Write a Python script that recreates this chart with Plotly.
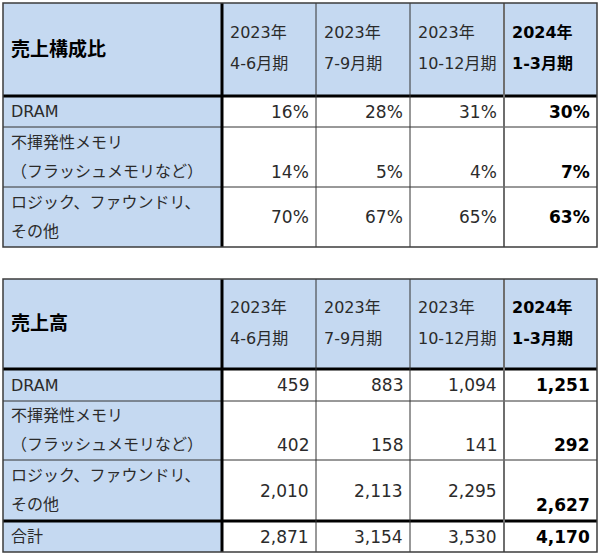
import plotly.graph_objects as go

# ---------------- data ----------------
period_years = ["2023年", "2023年", "2023年", "2024年"]
period_quarters = ["4-6月期", "7-9月期", "10-12月期", "1-3月期"]

share_title = "売上構成比"
share_labels = ["DRAM", "不揮発性メモリ\n（フラッシュメモリなど）", "ロジック、ファウンドリ、\nその他"]
share_dram = [16, 28, 31, 30]
share_nonvolatile = [14, 5, 4, 7]
share_logic = [70, 67, 65, 63]

sales_title = "売上高"
sales_labels = ["DRAM", "不揮発性メモリ\n（フラッシュメモリなど）", "ロジック、ファウンドリ、\nその他", "合計"]
sales_dram = [459, 883, 1094, 1251]
sales_nonvolatile = [402, 158, 141, 292]
sales_logic = [2010, 2113, 2295, 2627]
sales_total = [2871, 3154, 3530, 4170]

# ---------------- layout / style ----------------
W, H = 600, 557
col_edges = [3, 222, 316, 410, 504, 597]
top_row_edges = [3, 96, 127, 187, 247]
bottom_row_edges = [279, 369, 401, 460, 521, 552]
# vertical alignment of value cells per row (per column)
top_valign = [["middle"] * 4, ["bottom"] * 4, ["middle"] * 4]
bottom_valign = [["middle"] * 4, ["bottom"] * 4, ["middle", "middle", "middle", "bottom"], ["middle"] * 4]

BLUE = "#C5D9F1"
TXT = "#2B2B2B"
FONT = "DejaVu Sans, Noto Sans CJK JP, sans-serif"
LABEL_SIZE = 16
VALUE_SIZE = 17
TITLE_SIZE = 19
PAD_L = 6
PAD_R = 5

shapes = []
annotations = []


def rect(x0, x1, y0, y1, color):
    shapes.append(dict(type="rect", xref="x", yref="y", x0=x0, x1=x1, y0=y0, y1=y1,
                       fillcolor=color, line=dict(width=0), layer="below"))


def line(x0, y0, x1, y1, color, width):
    shapes.append(dict(type="line", xref="x", yref="y", x0=x0, y0=y0, x1=x1, y1=y1,
                       line=dict(color=color, width=width)))


def text(x, y, s, anchor, size, bold=False, color=TXT):
    if bold:
        s = "<b>" + s + "</b>"
        color = "#000000"
    annotations.append(dict(xref="x", yref="y", x=x, y=y, text=s, showarrow=False,
                            xanchor=anchor, yanchor="middle",
                            font=dict(family=FONT, size=size, color=color)))


def draw_table(title, labels, rows, fmt, row_edges, valign, thick_before_last):
    n_rows = len(labels)
    n_cols = len(period_years)
    left, right = col_edges[0], col_edges[-1]
    top, bottom = row_edges[0], row_edges[-1]
    # fills
    rect(left, right, top, bottom, "#FFFFFF")
    rect(left, right, row_edges[0], row_edges[1], BLUE)
    rect(col_edges[0], col_edges[1], top, bottom, BLUE)
    # header texts
    hc = (row_edges[0] + row_edges[1]) / 2
    text(col_edges[0] + 6, hc - 1, title, "left", TITLE_SIZE, bold=True)
    for j in range(n_cols):
        bold = j == n_cols - 1
        x = col_edges[j + 1] + PAD_L
        text(x, hc - 17, period_years[j], "left", LABEL_SIZE, bold=bold)
        text(x, hc + 14, period_quarters[j], "left", LABEL_SIZE, bold=bold)
    # body
    for i in range(n_rows):
        y0, y1 = row_edges[i + 1], row_edges[i + 2]
        c = (y0 + y1) / 2
        parts = labels[i].split("\n")
        if len(parts) == 1:
            text(col_edges[0] + 6, c, parts[0], "left", LABEL_SIZE)
        else:
            text(col_edges[0] + 6, c - 15, parts[0], "left", LABEL_SIZE)
            text(col_edges[0] + 6, c + 14, parts[1], "left", LABEL_SIZE)
        for j in range(n_cols):
            yv = c + 14.5 if valign[i][j] == "bottom" else c
            text(col_edges[j + 2] - PAD_R, yv, fmt(rows[i][j]), "right", VALUE_SIZE,
                 bold=(j == n_cols - 1))
    # grid lines
    for k, y in enumerate(row_edges):
        if k == 1:
            line(left, y, right, y, "#000000", 3)
        elif thick_before_last and k == len(row_edges) - 2:
            line(left, y, right, y, "#000000", 3)
        elif 0 < k < len(row_edges) - 1:
            line(left, y, right, y, "#333333", 1)
    for k, x in enumerate(col_edges):
        if k == 1:
            line(x, top, x, bottom, "#000000", 3)
        elif k == len(col_edges) - 2:
            line(x, top, x, bottom, "#6E6E6E", 2)
        elif 0 < k < len(col_edges) - 1:
            line(x, top, x, bottom, "#333333", 1)
    # outer border
    shapes.append(dict(type="rect", xref="x", yref="y", x0=left, x1=right, y0=top, y1=bottom,
                       line=dict(color="#3C3C3C", width=1.5), fillcolor="rgba(0,0,0,0)"))


draw_table(share_title, share_labels, [share_dram, share_nonvolatile, share_logic],
           lambda v: f"{v}%", top_row_edges, top_valign, False)
draw_table(sales_title, sales_labels, [sales_dram, sales_nonvolatile, sales_logic, sales_total],
           lambda v: f"{v:,}", bottom_row_edges, bottom_valign, True)

fig = go.Figure()
fig.add_trace(go.Scatter(x=[0, W], y=[0, H], mode="markers", marker=dict(opacity=0),
                         hoverinfo="skip", showlegend=False))
fig.update_layout(
    width=W, height=H, margin=dict(l=0, r=0, t=0, b=0),
    paper_bgcolor="white", plot_bgcolor="white",
    xaxis=dict(range=[0, W], visible=False, fixedrange=True),
    yaxis=dict(range=[H, 0], visible=False, fixedrange=True),
    shapes=shapes, annotations=annotations, showlegend=False,
)
fig.write_html("out.html", config=dict(displayModeBar=False),
               post_script="document.body.style.margin='0px';document.body.style.padding='0px';")
